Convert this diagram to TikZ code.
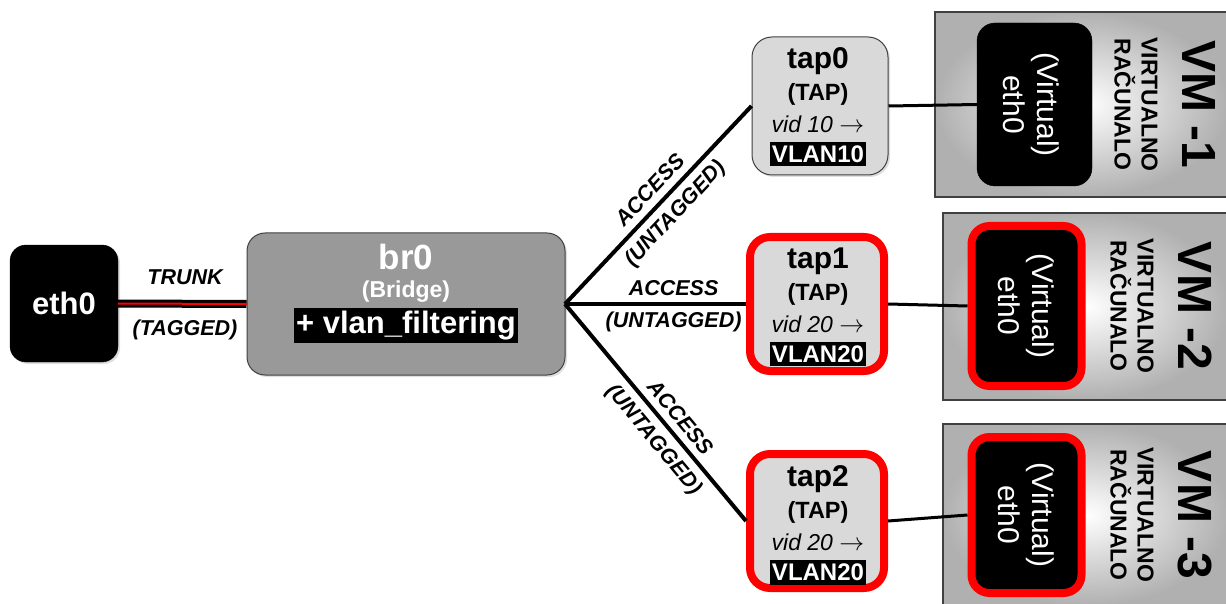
\documentclass[tikz,border=0pt]{standalone}
\usepackage{fontspec}
\setmainfont{Liberation Sans}
\usetikzlibrary{shadows}
\definecolor{tapgray}{HTML}{D9D9D9}
\definecolor{brgray}{HTML}{999999}
\definecolor{vmedge}{HTML}{B0B0B0}
\definecolor{bordgray}{HTML}{404040}
\tikzset{
  boxbase/.style={rounded corners=16pt, inner sep=0pt, drop shadow={opacity=0.25, shadow xshift=2pt, shadow yshift=-2pt}},
  blackbox/.style={boxbase, fill=black, draw=black},
  bridgebox/.style={boxbase, fill=brgray, draw=bordgray, line width=1pt, rounded corners=18pt},
  tapbox/.style={boxbase, fill=tapgray, draw=bordgray, line width=1pt, rounded corners=20pt},
  redtapbox/.style={boxbase, fill=tapgray, draw=red, line width=8pt, rounded corners=20pt},
  vmbox/.style={inner sep=0pt, draw=bordgray, line width=1.5pt, inner color=white, outer color=vmedge},
  vmeth/.style={rounded corners=18pt, inner sep=0pt, fill=black, draw=black},
  vmethred/.style={rounded corners=18pt, inner sep=0pt, fill=black, draw=red, line width=8pt},
  wtxt/.style={text=white, font=\bfseries, inner sep=0pt},
  btxt/.style={text=black, font=\bfseries, inner sep=0pt},
  hilite/.style={fill=black, text=white, font=\bfseries\fontsize{24}{28}\selectfont, inner xsep=1.5pt, inner ysep=4pt},
  lbl/.style={font=\bfseries\itshape\fontsize{21.5}{24}\selectfont, inner sep=5pt},
  dlbl/.style={lbl, inner sep=7pt},
  conn/.style={line width=4pt, black},
  rottxt/.style={rotate=-90, align=center, inner sep=0pt},
}
\begin{document}
\begin{tikzpicture}[x=1pt,y=-1pt]
\useasboundingbox (0,0) rectangle (1226,604);
\fill[white] (0,0) rectangle (1226,604);

\coordinate (brE) at (565,304);
% nodes
\node[blackbox, minimum width=108pt, minimum height=117pt] (eth0) at (64,303.5) {};
\node[wtxt, font=\bfseries\fontsize{31}{36}\selectfont] (eth0t) at (64,303.5) {eth0};

\node[bridgebox, minimum width=318pt, minimum height=142pt] (br0) at (406,304) {};
\node[wtxt, font=\bfseries\fontsize{35}{40}\selectfont] (br0t) at (406,257) {br0};
\node[wtxt, font=\bfseries\fontsize{23}{26}\selectfont] (br0b) at (406,292) {(Bridge)};
\node[fill=black, text=white, font=\bfseries\fontsize{31}{34}\selectfont, inner sep=2pt, minimum height=35pt] (br0v) at (406,325.5) {+ vlan\_filtering};

\node[tapbox, minimum width=136pt, minimum height=138pt] (tap0) at (820,106) {};
\node[redtapbox, minimum width=134pt, minimum height=134pt] (tap1) at (817,304) {};
\node[redtapbox, minimum width=134pt, minimum height=134pt] (tap2) at (817,521) {};

\foreach \n/\c/\y/\v in {0/tap0/61/10, 1/tap1/261/20, 2/tap2/479/20}{
  \node[btxt, font=\bfseries\fontsize{30}{32}\selectfont] (tapn\n) at (818,\y) {tap\n};
  \node[btxt, font=\bfseries\fontsize{23.5}{26}\selectfont] (tapk\n) at (818,\y+33) {(TAP)};
  \node[inner sep=0pt, font=\itshape\fontsize{23}{26}\selectfont] (tapv\n) at (818,\y+63) {vid \v\ \textrm{\upshape$\rightarrow$}};
  \node[hilite] (tapl\n) at (818,\y+93) {VLAN\v};
}

% VM boxes
\node[vmbox, minimum width=293pt, minimum height=185pt] (vm1) at (1081.5,104.5) {};
\node[vmbox, minimum width=285pt, minimum height=187pt] (vm2) at (1085.5,306.5) {};
\node[vmbox, minimum width=285pt, minimum height=182pt] (vm3) at (1085.5,515) {};
\node[vmeth, minimum width=115pt, minimum height=163pt] (vm1e) at (1034.5,104.5) {};
\node[vmethred, minimum width=110pt, minimum height=160pt] (vm2e) at (1026.5,306) {};
\node[vmethred, minimum width=110pt, minimum height=156pt] (vm3e) at (1026.5,515) {};

\foreach \i/\ex/\vx/\y in {1/1031/1004/104.5, 2/1026.5/1000/306, 3/1026.5/1000/515}{
  \node[rottxt, text=white, font=\fontsize{30}{34}\selectfont] (vmt\i) at (\ex,\y) {(Virtual)\\eth0};
  \node[rottxt, font=\bfseries\fontsize{23}{27}\selectfont] (vmr\i) at (\vx+132,\y) {VIRTUALNO\\RAČUNALO};
  \node[rottxt, font=\bfseries\fontsize{48}{50}\selectfont] (vmn\i) at (\vx+195,\y) {VM -\i};
}

% connectors
\draw[line width=8pt] (eth0.east) -- (br0.west);
\draw[red, line width=2pt] (eth0.east) -- (br0.west);
\node[lbl] (trunk) at (185,277) {TRUNK};
\node[lbl] (tagged) at (185,330) {(TAGGED)};

\draw[conn] (brE) -- (tap0.west)
  node[dlbl, pos=0.52, sloped, above] (acc0) {ACCESS}
  node[dlbl, pos=0.52, sloped, below] (unt0) {(UNTAGGED)};
\draw[conn] (brE) -- (tap1.west)
  node[lbl, pos=0.6, above, inner sep=6pt] (acc1) {ACCESS}
  node[lbl, pos=0.6, below, inner sep=6pt] (unt1) {(UNTAGGED)};
\draw[conn] (brE) -- (tap2.west)
  node[dlbl, pos=0.57, sloped, above] (acc2) {ACCESS}
  node[dlbl, pos=0.57, sloped, below] (unt2) {(UNTAGGED)};

\draw[conn, line width=3pt] (tap0.east) -- (vm1e.west);
\draw[conn, line width=3pt] (tap1.east) -- (vm2e.west);
\draw[conn, line width=3pt] (tap2.east) -- (vm3e.west);
\end{tikzpicture}
\end{document}
